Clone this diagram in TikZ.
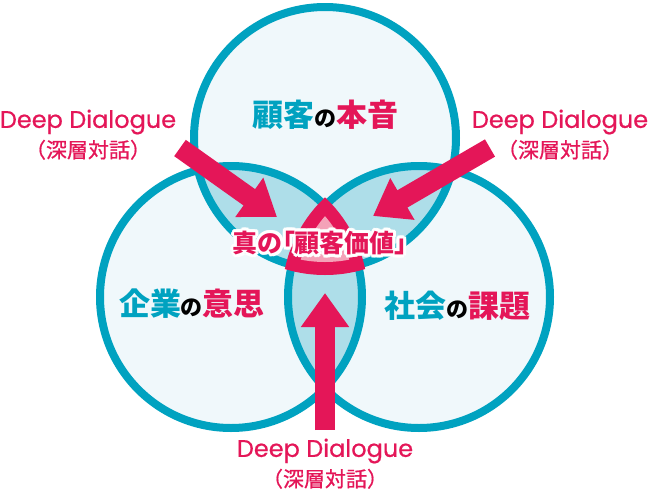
\documentclass[tikz,border=0pt]{standalone}
\usepackage{fontspec}
\setmainfont{Poppins}[FakeBold=0.7]
\newfontfamily\jp{Noto Sans CJK JP}
\newfontfamily\jpm{Noto Sans CJK JP}[FakeBold=0.8]
\newfontfamily\jpp{Noto Sans CJK JP}[RawFeature=+palt]
\usepackage{tikz}
\usetikzlibrary{arrows.meta, positioning}
\definecolor{vennteal}{RGB}{0, 162, 192}
\definecolor{keycrimson}{RGB}{228, 22, 88}
\definecolor{lightfill}{RGB}{240, 248, 251}
\definecolor{overlapfill}{RGB}{174, 222, 233}
\definecolor{softpink}{RGB}{244, 162, 184}
\newcommand{\smallno}{{\color{black}\fontsize{22}{22}\selectfont の}}

\begin{document}
\begin{tikzpicture}[x=1pt, y=-1pt,
    ring/.style={draw=vennteal, line width=8pt},
    bigarrow/.style={draw=keycrimson, line width=20pt,
                     -{Triangle[width=46pt, length=34pt]}},
    dialogue/.style={text=keycrimson, inner sep=0pt, font=\fontsize{24}{26}\selectfont},
    dialoguejp/.style={text=keycrimson, inner sep=0pt, font=\jpm\fontsize{21}{23}\selectfont},
    area/.style={inner sep=0pt, font=\jp\bfseries\fontsize{31}{33}\selectfont},
    valuetext/.style={inner sep=0pt, font=\jpp\bfseries\fontsize{25}{27}\selectfont}]
  \useasboundingbox (0,0) rectangle (649,496);

  % circle centres
  \coordinate (top)   at (325,138);
  \coordinate (left)  at (231,297);
  \coordinate (right) at (419,297);

  % fills and overlaps
  \foreach \c in {top, left, right}
    \fill[lightfill] (\c) circle (131pt);
  \begin{scope}
    \clip (top) circle (131pt);
    \fill[overlapfill] (left) circle (131pt);
    \fill[overlapfill] (right) circle (131pt);
  \end{scope}
  \begin{scope}
    \clip (left) circle (131pt);
    \fill[overlapfill] (right) circle (131pt);
  \end{scope}
  \foreach \c in {top, left, right}
    \draw[ring] (\c) circle (131pt);

  % true value core
  \begin{scope}
    \clip (top) circle (137pt);
    \clip (left) circle (137pt);
    \fill[keycrimson] (right) circle (137pt);
    \clip (top) circle (124pt);
    \clip (left) circle (124pt);
    \fill[softpink] (right) circle (124pt);
  \end{scope}

  % arrows
  \coordinate (ltail) at (180,148);
  \coordinate (ltip)  at (277,217);
  \coordinate (rtail) at (490,148);
  \coordinate (rtip)  at (373,216);
  \coordinate (btail) at (325,430);
  \coordinate (btip)  at (325,293);
  \draw[bigarrow] (ltail) -- (ltip);
  \draw[bigarrow] (rtail) -- (rtip);
  \draw[bigarrow] (btail) -- (btip);

  % Deep Dialogue labels
  \node[dialogue] (ddleft) at (88,122) {Deep Dialogue};
  \node[dialoguejp, below=5pt of ddleft] (ddleftjp) {（深層対話）};
  \node[dialogue] (ddright) at (560,122) {Deep Dialogue};
  \node[dialoguejp, below=5pt of ddright] (ddrightjp) {（深層対話）};
  \node[dialogue] (ddbottom) at (325,451) {Deep Dialogue};
  \node[dialoguejp, below=5pt of ddbottom] (ddbottomjp) {（深層対話）};

  % circle labels
  \node[area] (customer) at (325,115)
    {\color{vennteal}顧客\smallno\color{keycrimson}本音};
  \node[area] (company) at (192,304)
    {\color{vennteal}企業\smallno\color{keycrimson}意思};
  \node[area] (society) at (457,306)
    {\color{vennteal}社会\smallno\color{keycrimson}課題};

  % centre label with halo
  \foreach \a in {0,30,...,330}
    \node[valuetext, text=white, shift={(\a:3pt)}] (halo\a) at (320,243) {真の「顧客価値」};
  \node[valuetext, text=keycrimson] (value) at (320,243) {真の「顧客価値」};
\end{tikzpicture}
\end{document}
